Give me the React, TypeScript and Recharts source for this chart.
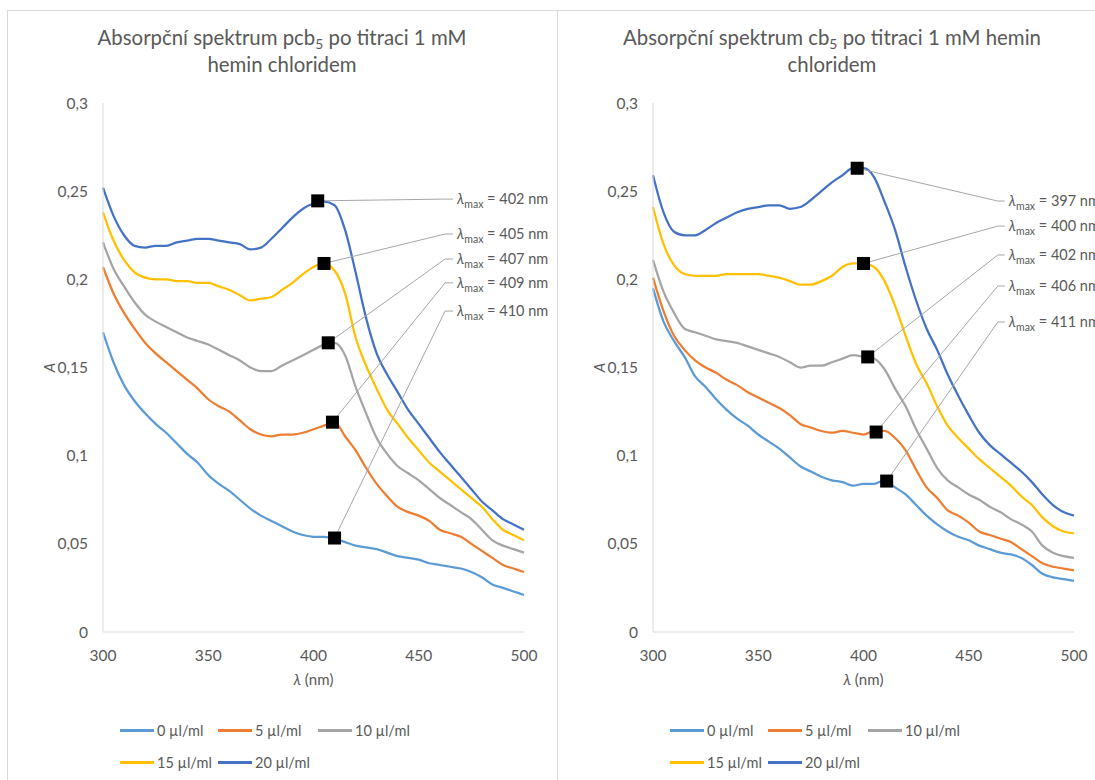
import React from 'react';
import { ComposedChart, Line, Scatter, XAxis, YAxis, ReferenceLine, Legend } from 'recharts';

const wavelengths = [
  300, 305, 310, 315, 320, 325, 330, 335, 340, 345, 350, 355, 360, 365, 370, 375, 380, 385, 390, 395,
  400, 405, 410, 415, 420, 425, 430, 435, 440, 445, 450, 455, 460, 465, 470, 475, 480, 485, 490, 495, 500,
];

const seriesNames = ['0 µl/ml', '5 µl/ml', '10 µl/ml', '15 µl/ml', '20 µl/ml'];

// pcb5 titration
const pcb0 = [
  0.170, 0.153, 0.140, 0.131, 0.124, 0.118, 0.113, 0.107, 0.101, 0.096, 0.089, 0.084, 0.080, 0.075, 0.070, 0.066, 0.063, 0.060, 0.057, 0.055,
  0.054, 0.054, 0.053, 0.051, 0.049, 0.048, 0.047, 0.045, 0.043, 0.042, 0.041, 0.039, 0.038, 0.037, 0.036, 0.034, 0.031, 0.027, 0.025, 0.023, 0.021,
];
const pcb5 = [
  0.207, 0.192, 0.181, 0.172, 0.164, 0.158, 0.153, 0.148, 0.143, 0.138, 0.132, 0.128, 0.125, 0.120, 0.115, 0.112, 0.111, 0.112, 0.112, 0.113,
  0.115, 0.117, 0.119, 0.111, 0.103, 0.093, 0.084, 0.077, 0.071, 0.068, 0.066, 0.063, 0.058, 0.056, 0.054, 0.050, 0.046, 0.042, 0.038, 0.036, 0.034,
];
const pcb10 = [
  0.221, 0.206, 0.196, 0.187, 0.180, 0.176, 0.173, 0.170, 0.167, 0.165, 0.163, 0.160, 0.157, 0.154, 0.150, 0.148, 0.148, 0.151, 0.154, 0.157,
  0.160, 0.163, 0.164, 0.157, 0.139, 0.124, 0.110, 0.101, 0.094, 0.090, 0.086, 0.081, 0.076, 0.072, 0.068, 0.064, 0.058, 0.052, 0.049, 0.047, 0.045,
];
const pcb15 = [
  0.238, 0.222, 0.211, 0.204, 0.201, 0.200, 0.200, 0.199, 0.199, 0.198, 0.198, 0.196, 0.194, 0.191, 0.188, 0.189, 0.190, 0.194, 0.198, 0.203,
  0.207, 0.209, 0.205, 0.192, 0.167, 0.151, 0.138, 0.126, 0.118, 0.110, 0.103, 0.096, 0.091, 0.086, 0.081, 0.076, 0.071, 0.064, 0.058, 0.055, 0.052,
];
const pcb20 = [
  0.252, 0.236, 0.225, 0.219, 0.218, 0.219, 0.219, 0.221, 0.222, 0.223, 0.223, 0.222, 0.221, 0.220, 0.217, 0.218, 0.223, 0.229, 0.235, 0.240,
  0.243, 0.244, 0.242, 0.228, 0.204, 0.178, 0.158, 0.146, 0.136, 0.126, 0.118, 0.110, 0.102, 0.095, 0.088, 0.081, 0.074, 0.069, 0.064, 0.061, 0.058,
];
const pcbPeakNm = [410, 409, 407, 405, 402];
const pcbPeakA = [0.0533, 0.119, 0.164, 0.209, 0.2445];

// cb5 titration
const cb0 = [
  0.195, 0.176, 0.165, 0.156, 0.145, 0.139, 0.132, 0.126, 0.121, 0.117, 0.112, 0.108, 0.104, 0.099, 0.094, 0.091, 0.088, 0.086, 0.085, 0.083,
  0.084, 0.084, 0.086, 0.082, 0.078, 0.072, 0.066, 0.061, 0.057, 0.054, 0.052, 0.049, 0.047, 0.045, 0.044, 0.042, 0.038, 0.033, 0.031, 0.030, 0.029,
];
const cb5 = [
  0.201, 0.182, 0.168, 0.160, 0.154, 0.150, 0.147, 0.143, 0.140, 0.136, 0.133, 0.130, 0.127, 0.123, 0.118, 0.116, 0.114, 0.113, 0.114, 0.113,
  0.112, 0.114, 0.114, 0.110, 0.103, 0.092, 0.082, 0.076, 0.069, 0.066, 0.062, 0.057, 0.055, 0.053, 0.051, 0.047, 0.043, 0.039, 0.037, 0.036, 0.035,
];
const cb10 = [
  0.211, 0.193, 0.181, 0.172, 0.170, 0.168, 0.166, 0.165, 0.164, 0.162, 0.160, 0.158, 0.156, 0.153, 0.150, 0.151, 0.151, 0.153, 0.155, 0.157,
  0.156, 0.155, 0.149, 0.138, 0.128, 0.115, 0.104, 0.093, 0.086, 0.082, 0.078, 0.075, 0.071, 0.068, 0.064, 0.061, 0.057, 0.049, 0.045, 0.043, 0.042,
];
const cb15 = [
  0.241, 0.220, 0.208, 0.203, 0.202, 0.202, 0.202, 0.203, 0.203, 0.203, 0.203, 0.202, 0.201, 0.199, 0.197, 0.197, 0.199, 0.202, 0.207, 0.209,
  0.209, 0.207, 0.199, 0.185, 0.168, 0.152, 0.141, 0.128, 0.117, 0.110, 0.104, 0.098, 0.093, 0.088, 0.083, 0.077, 0.072, 0.065, 0.060, 0.057, 0.056,
];
const cb20 = [
  0.259, 0.238, 0.227, 0.225, 0.225, 0.228, 0.232, 0.235, 0.238, 0.240, 0.241, 0.242, 0.242, 0.240, 0.241, 0.245, 0.250, 0.255, 0.259, 0.263,
  0.263, 0.258, 0.244, 0.228, 0.207, 0.188, 0.172, 0.160, 0.146, 0.134, 0.123, 0.113, 0.106, 0.101, 0.096, 0.091, 0.085, 0.078, 0.072, 0.068, 0.066,
];
const cbPeakNm = [411, 406, 402, 400, 397];
const cbPeakA = [0.0856, 0.1134, 0.156, 0.209, 0.263];

const xTicks = [300, 350, 400, 450, 500];
const yTicks = [0, 0.05, 0.1, 0.15, 0.2, 0.25, 0.3];

const COLORS = ['#5B9BD5', '#ED7D31', '#A5A5A5', '#FFC000', '#4472C4'];
const TEXT = '#595959';
const FONT = 'Lato, "Open Sans", sans-serif';

// height (in A) where each callout's leader ends
const pcbCalloutA = [0.182, 0.198, 0.2115, 0.2257, 0.2455];
const cbCalloutA = [0.1758, 0.1962, 0.2138, 0.2302, 0.2444];

const comma = (v: number) => String(v).replace('.', ',');

function Square(props: any) {
  const { cx, cy } = props;
  return <rect x={cx - 6.5} y={cy - 6.5} width={13} height={13} fill="#000" />;
}

function Callout(props: any) {
  const { cx, cy, payload } = props;
  return (
    <text x={cx + 4} y={cy} dy="0.35em" fill={TEXT} fontSize={14.5} fontFamily={FONT}>
      <tspan fontStyle="italic">λ</tspan>
      <tspan fontSize={10.5} dy={4}>max</tspan>
      <tspan dy={-4}>{' = ' + payload.nm + ' nm'}</tspan>
    </text>
  );
}

function LegendBox() {
  const item = (k: number) => (
    <div key={k} style={{ display: 'flex', alignItems: 'center', whiteSpace: 'nowrap' }}>
      <span style={{ display: 'inline-block', width: 34, height: 3, background: COLORS[k], marginRight: 3, flex: 'none' }} />
      <span>{seriesNames[k]}</span>
    </div>
  );
  return (
    <div
      style={{
        display: 'grid',
        gridTemplateColumns: '98px 100px 100px',
        gridAutoRows: '32px',
        alignItems: 'center',
        color: TEXT,
        fontSize: 14.5,
        fontFamily: FONT,
        height: 64,
      }}
    >
      {[0, 1, 2, 3, 4].map(item)}
    </div>
  );
}

type ChartProps = {
  title1: React.ReactNode;
  title2: string;
  series: number[][];
  peakNm: number[];
  peakA: number[];
  calloutA: number[];
  elbowNm: number;
  endNm: number;
  left: number;
};

function SpectrumChart({ title1, title2, series, peakNm, peakA, calloutA, elbowNm, endNm, left }: ChartProps) {
  const rows = wavelengths.map((w, i) => {
    const r: any = { x: w };
    series.forEach((s, k) => (r['s' + k] = s[i]));
    return r;
  });
  const peaks = peakNm.map((nm, k) => ({ x: nm, y: peakA[k] }));
  const callouts = peakNm.map((nm, k) => ({ x: endNm, y: calloutA[k], nm }));

  return (
    <div style={{ position: 'absolute', left, top: 10, width: 550, height: 770 }}>
      <div
        style={{
          position: 'absolute',
          left: 0,
          top: 14,
          width: 550,
          textAlign: 'center',
          color: TEXT,
          fontFamily: FONT,
          fontSize: 20.4,
          lineHeight: '27px',
          zIndex: 2,
        }}
      >
        <div>{title1}</div>
        <div>{title2}</div>
      </div>
      <ComposedChart width={550} height={770} data={rows} margin={{ top: 93, right: 33, left: 36, bottom: 118 }}>
        <XAxis
          dataKey="x"
          type="number"
          domain={[300, 500]}
          ticks={xTicks}
          axisLine={{ stroke: '#d9d9d9' }}
          tickLine={false}
          tickMargin={12}
          height={30}
          tick={{ fill: TEXT, fontSize: 15.5, fontFamily: FONT }}
          label={(p: any) => {
            const vb = p.viewBox;
            return (
              <text x={vb.x + vb.width / 2} y={vb.y + 48} dy="0.35em" textAnchor="middle" fill={TEXT} fontSize={15} fontFamily={FONT}>
                <tspan fontStyle="italic">λ</tspan>
                <tspan> (nm)</tspan>
              </text>
            );
          }}
        />
        <YAxis
          type="number"
          domain={[0, 0.3]}
          ticks={yTicks}
          tickFormatter={comma}
          axisLine={{ stroke: '#d9d9d9' }}
          tickLine={false}
          tickMargin={9}
          width={60}
          tick={{ fill: TEXT, fontSize: 15.5, fontFamily: FONT }}
          label={(p: any) => {
            const vb = p.viewBox;
            const cy = vb.y + vb.height / 2;
            return (
              <text x={43} y={cy} dy="0.35em" textAnchor="middle" transform={`rotate(-90 43 ${cy})`} fill={TEXT} fontSize={15} fontFamily={FONT} fontStyle="italic">
                A
              </text>
            );
          }}
        />
        {series.map((_, k) => (
          <Line
            key={k}
            dataKey={'s' + k}
            name={seriesNames[k]}
            type="monotone"
            stroke={COLORS[k]}
            strokeWidth={2.25}
            dot={false}
            activeDot={false}
            isAnimationActive={false}
          />
        ))}
        {peaks.map((p, k) => (
          <ReferenceLine
            key={'a' + k}
            segment={[{ x: p.x, y: p.y }, { x: elbowNm, y: calloutA[k] }]}
            stroke="#a6a6a6"
            strokeWidth={1}
            ifOverflow="visible"
          />
        ))}
        {peaks.map((p, k) => (
          <ReferenceLine
            key={'b' + k}
            segment={[{ x: elbowNm, y: calloutA[k] }, { x: endNm, y: calloutA[k] }]}
            stroke="#a6a6a6"
            strokeWidth={1}
            ifOverflow="visible"
          />
        ))}
        <Scatter data={peaks} dataKey="y" shape={Square} legendType="none" isAnimationActive={false} />
        <Scatter data={callouts} dataKey="y" shape={Callout} legendType="none" isAnimationActive={false} />
        <Legend
          layout="horizontal"
          verticalAlign="middle"
          align="center"
          content={() => <LegendBox />}
          wrapperStyle={{ top: 704, left: 113, bottom: 'auto', width: 320, height: 64 }}
        />
      </ComposedChart>
    </div>
  );
}

const sub5 = <span style={{ fontSize: '0.68em', verticalAlign: '-0.3em', lineHeight: 0 }}>5</span>;

export default function App() {
  return (
    <div style={{ position: 'absolute', left: 0, top: 0, width: 1095, height: 780, overflow: 'hidden', background: '#fff' }}>
      <div style={{ position: 'absolute', left: 7, top: 10, width: 551, height: 800, border: '1px solid #d9d9d9', boxSizing: 'border-box' }} />
      <div style={{ position: 'absolute', left: 557, top: 10, width: 551, height: 800, border: '1px solid #d9d9d9', boxSizing: 'border-box' }} />
      <SpectrumChart
        title1={<>Absorpční spektrum pcb{sub5} po titraci 1 mM</>}
        title2="hemin chloridem"
        series={[pcb0, pcb5, pcb10, pcb15, pcb20]}
        peakNm={pcbPeakNm}
        peakA={pcbPeakA}
        calloutA={pcbCalloutA}
        elbowNm={462.5}
        endNm={466.3}
        left={7}
      />
      <SpectrumChart
        title1={<>Absorpční spektrum cb{sub5} po titraci 1 mM hemin</>}
        title2="chloridem"
        series={[cb0, cb5, cb10, cb15, cb20]}
        peakNm={cbPeakNm}
        peakA={cbPeakA}
        calloutA={cbCalloutA}
        elbowNm={463.8}
        endNm={467.1}
        left={557}
      />
    </div>
  );
}
